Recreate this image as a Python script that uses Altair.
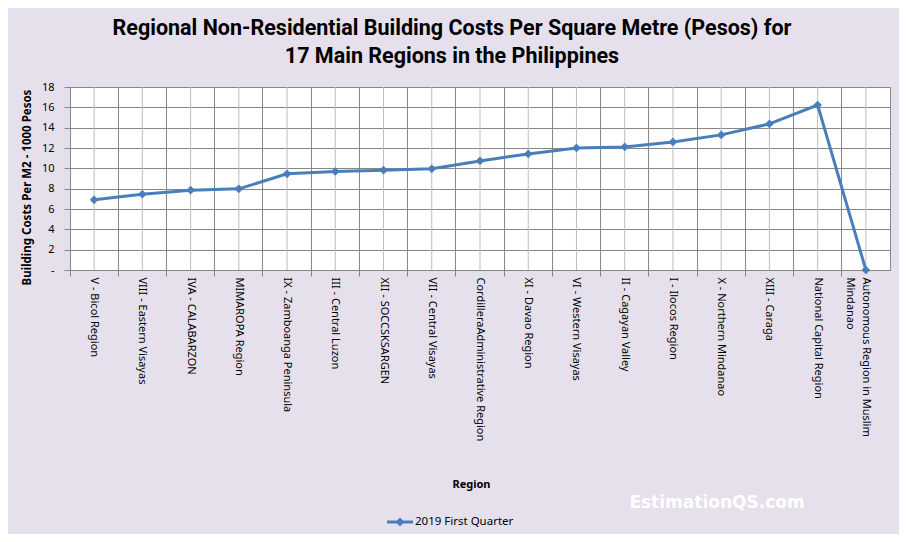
import pandas as pd
import altair as alt

regions = [
    "V - Bicol Region",
    "VIII - Eastern  Visayas",
    "IVA - CALABARZON",
    "MIMAROPA Region",
    "IX - Zamboanga  Peninsula",
    "III - Central Luzon",
    "XII - SOCCSKSARGEN",
    "VII - Central  Visayas",
    "CordilleraAdministrative  Region",
    "XI - Davao  Region",
    "VI - Western  Visayas",
    "II - Cagayan  Valley",
    "I - Ilocos Region",
    "X - Northern Mindanao",
    "XIII - Caraga",
    "National  Capital  Region",
    "Autonomous Region in Muslim Mindanao",
]
costs = [6.90, 7.46, 7.85, 7.98, 9.46, 9.69, 9.82, 9.95, 10.73, 11.42,
         12.01, 12.11, 12.60, 13.29, 14.37, 16.23, 0.0]
series_name = "2019 First Quarter"

df = pd.DataFrame({"Region": regions, "Cost": costs, "Series": series_name})

FONT = "Noto Sans"
BLUE = "#4A7EBB"
DARK = "#878787"
LIGHT = "#BDBDBD"

x_scale = alt.Scale(type="band", paddingInner=0, paddingOuter=0)

# light gridlines through the category centres, dark grid/ticks on the boundaries
grid = alt.Chart(df).mark_rule(color=LIGHT, strokeWidth=1).encode(
    x=alt.X("Region:N", sort=regions, scale=x_scale,
            axis=alt.Axis(orient="bottom", bandPosition=0, grid=True, gridColor=DARK,
                          labels=False, ticks=True, tickSize=6, tickColor=DARK,
                          domain=False, title=None))
)

line = alt.Chart(df).mark_line(
    strokeWidth=3,
    point=alt.OverlayMarkDef(shape="diamond", size=75, filled=True, color=BLUE),
).encode(
    x=alt.X("Region:N", sort=regions, scale=x_scale,
            axis=alt.Axis(orient="bottom", grid=False, ticks=False, domain=True,
                          domainColor=DARK, labelAngle=90, labelPadding=7,
                          labelFont=FONT, labelFontSize=11, labelColor="black",
                          labelLineHeight=16, labelLimit=220,
                          labelExpr="datum.value == 'Autonomous Region in Muslim Mindanao' ? ['Autonomous Region in Muslim', 'Mindanao'] : datum.value",
                          title="Region", titleFont=FONT, titleFontSize=11,
                          titleFontWeight="bold", titleColor="black",
                          titleX=401, titleY=214, titleBaseline="middle")),
    y=alt.Y("Cost:Q", scale=alt.Scale(domain=[0, 18]),
            axis=alt.Axis(values=list(range(0, 19, 2)), grid=True, gridColor=DARK,
                          tickSize=6, tickColor=DARK, domainColor=DARK,
                          labelPadding=10, labelFont=FONT, labelFontSize=11,
                          labelColor="black",
                          labelExpr="datum.value == 0 ? '-' : datum.value",
                          title="Building Costs  Per M2 - 1000 Pesos",
                          titleFont=FONT, titleFontSize=11.5, titleFontWeight="bold",
                          titleColor="black", titleX=-43, titleY=100,
                          titleBaseline="middle")),
    color=alt.Color("Series:N", scale=alt.Scale(range=[BLUE]),
                    legend=alt.Legend(title=None, orient="none", legendX=317, legendY=422,
                                      symbolType="M-1,-0.12H1V0.12H-1Z M0,-0.34L0.34,0L0,0.34L-0.34,0Z",
                                      symbolSize=676, symbolStrokeWidth=0,
                                      labelFont=FONT, labelFontSize=11.5,
                                      labelColor="black", padding=0, labelOffset=2)),
)

watermark = alt.Chart(pd.DataFrame({"t": ["EstimationQS.com"]})).mark_text(
    font="DejaVu Sans", fontSize=17, fontWeight="bold", color="white"
).encode(text="t:N", x=alt.value(647), y=alt.value(416))

chart = alt.layer(grid, line, watermark).resolve_axis(x="independent").properties(
    width=820,
    height=183,
    autosize=alt.AutoSizeParams(type="none"),
    padding={"left": 62, "top": 79, "right": 9, "bottom": 264},
    background="#E6E0EC",
    title=alt.TitleParams(
        ["Regional  Non-Residential Building Costs Per Square Metre (Pesos) for",
         "17 Main Regions in the  Philippines"],
        font="Roboto", fontSize=21.5, fontWeight="bold", color="black",
        anchor="middle", lineHeight=28, offset=14, dx=-28,
    ),
).configure_view(fill="white", stroke=DARK, strokeWidth=1)

chart.save("out.html", embed_options={"renderer": "svg", "actions": False})
